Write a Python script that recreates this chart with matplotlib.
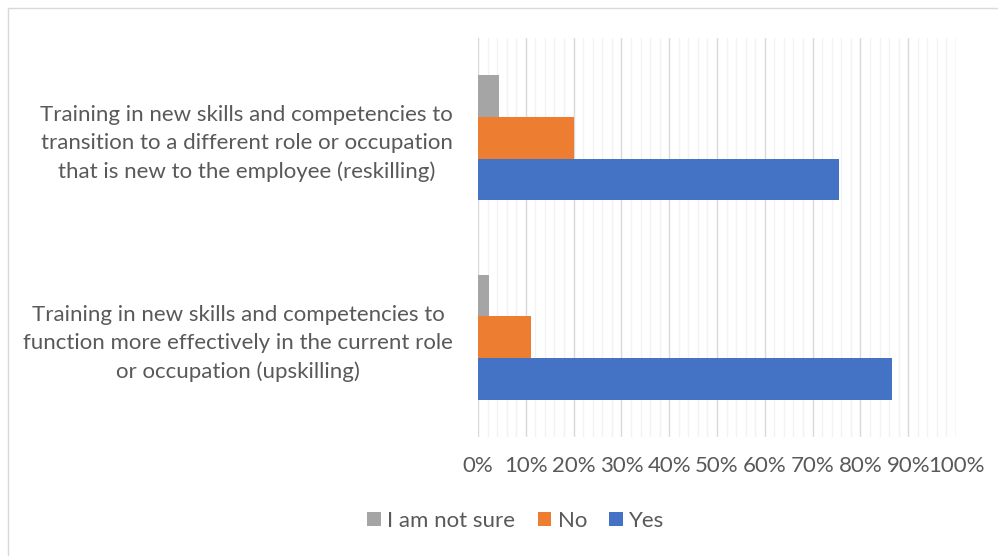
import numpy as np
import matplotlib.pyplot as plt
from matplotlib.patches import Rectangle

# survey answers, in percent
categories = [
    "Training in new skills and competencies to\nfunction more effectively in the current role\nor occupation (upskilling)",
    "Training in new skills and competencies to\ntransition to a different role or occupation\nthat is new to the employee (reskilling)",
]
yes = [86.7, 75.6]
no = [11.1, 20.0]
not_sure = [2.2, 4.4]
series_names = ["I am not sure", "No", "Yes"]
x_ticks = list(range(0, 101, 10))

plt.rcParams['font.family'] = ['Lato', 'DejaVu Sans']
text_color = '#595959'
fs = 16

fig = plt.figure(figsize=(9.98, 5.56), dpi=100)
fig.patches.append(Rectangle((8 / 998, -0.1), 1.2, 1 - 8 / 556 + 0.1,
                             transform=fig.transFigure, fill=False,
                             edgecolor='#d9d9d9', linewidth=1.0))
ax = fig.add_axes([478 / 998, 1 - 437 / 556, (956 - 478) / 998, (437 - 38) / 556])

y = np.arange(len(categories))
h = 0.209
ax.barh(y - h, yes, height=h, color='#4472C4', label=series_names[2], zorder=3)
ax.barh(y, no, height=h, color='#ED7D31', label=series_names[1], zorder=3)
ax.barh(y + h, not_sure, height=h, color='#A5A5A5', label=series_names[0], zorder=3)

ax.set_xlim(0, 100)
ax.set_ylim(-0.5, 1.5)
ax.set_xticks(x_ticks)
ax.set_xticklabels([f"{t}%" for t in x_ticks])
ax.set_xticks(np.arange(0, 101, 2), minor=True)
ax.grid(axis='x', which='major', color='#d9d9d9', linewidth=1.0, zorder=1)
ax.grid(axis='x', which='minor', color='#f2f2f2', linewidth=1.0, zorder=0)
ax.set_yticks(y)
ax.set_yticklabels(categories, multialignment='center', linespacing=1.5)
ax.tick_params(axis='both', which='both', length=0, labelsize=fs, colors=text_color)
ax.tick_params(axis='x', pad=14)
ax.tick_params(axis='y', pad=18)
for s in ax.spines.values():
    s.set_visible(False)

handles, labels = ax.get_legend_handles_labels()
order = [2, 1, 0]
fig.legend([handles[i] for i in order], [labels[i] for i in order],
           loc='center', bbox_to_anchor=(516 / 998, 1 - 521 / 556), ncol=3,
           frameon=False, fontsize=fs, labelcolor=text_color,
           handlelength=0.6, handleheight=0.6, handletextpad=0.3, columnspacing=1.0)

fig.savefig('out.png', dpi=100)
